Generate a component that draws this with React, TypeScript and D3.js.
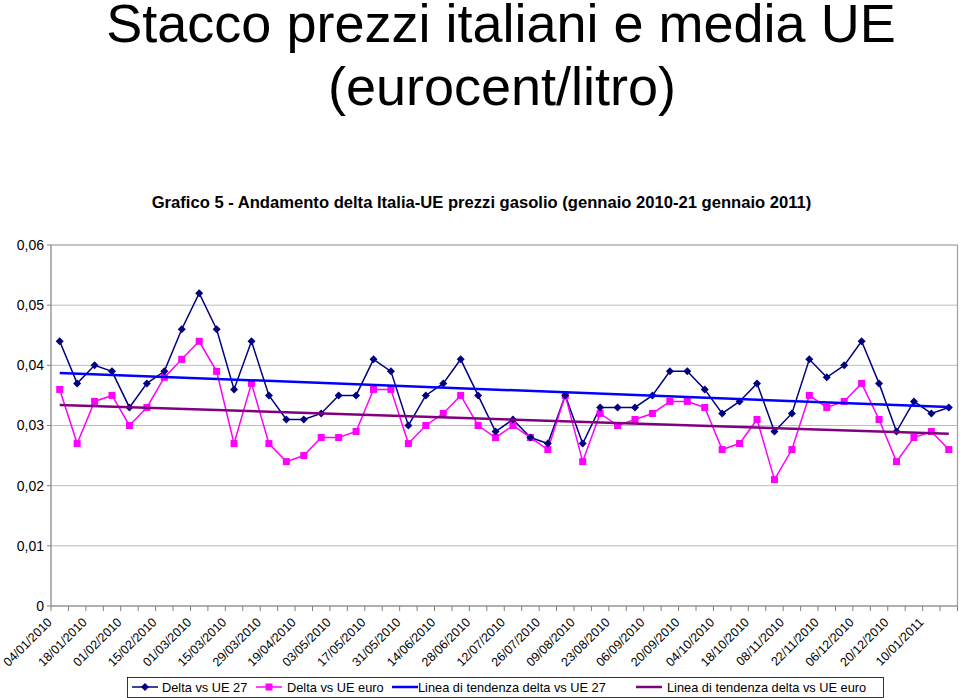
import React from "react";
import * as d3 from "d3";

const categories = [
  "04/01/2010","11/01/2010","18/01/2010","25/01/2010","01/02/2010","08/02/2010","15/02/2010","22/02/2010",
  "01/03/2010","08/03/2010","15/03/2010","22/03/2010","29/03/2010","12/04/2010","19/04/2010","26/04/2010",
  "03/05/2010","10/05/2010","17/05/2010","24/05/2010","31/05/2010","07/06/2010","14/06/2010","21/06/2010",
  "28/06/2010","05/07/2010","12/07/2010","19/07/2010","26/07/2010","02/08/2010","09/08/2010","16/08/2010",
  "23/08/2010","30/08/2010","06/09/2010","13/09/2010","20/09/2010","27/09/2010","04/10/2010","11/10/2010",
  "18/10/2010","01/11/2010","08/11/2010","15/11/2010","22/11/2010","29/11/2010","06/12/2010","13/12/2010",
  "20/12/2010","03/01/2011","10/01/2011","17/01/2011"
];

const deltaUE27 = [
  0.044,0.037,0.040,0.039,0.033,0.037,0.039,0.046,0.052,0.046,0.036,0.044,0.035,0.031,0.031,0.032,
  0.035,0.035,0.041,0.039,0.030,0.035,0.037,0.041,0.035,0.029,0.031,0.028,0.027,0.035,0.027,0.033,
  0.033,0.033,0.035,0.039,0.039,0.036,0.032,0.034,0.037,0.029,0.032,0.041,0.038,0.040,0.044,0.037,
  0.029,0.034,0.032,0.033
];

const deltaUEeuro = [
  0.036,0.027,0.034,0.035,0.030,0.033,0.038,0.041,0.044,0.039,0.027,0.037,0.027,0.024,0.025,0.028,
  0.028,0.029,0.036,0.036,0.027,0.030,0.032,0.035,0.030,0.028,0.030,0.028,0.026,0.035,0.024,0.032,
  0.030,0.031,0.032,0.034,0.034,0.033,0.026,0.027,0.031,0.021,0.026,0.035,0.033,0.034,0.037,0.031,
  0.024,0.028,0.029,0.026
];

const yTicks = [0, 0.01, 0.02, 0.03, 0.04, 0.05, 0.06];
const yTickLabels = ["0", "0,01", "0,02", "0,03", "0,04", "0,05", "0,06"];

const titleLines = ["Stacco prezzi italiani e media UE", "(eurocent/litro)"];
const subtitle = "Grafico 5 - Andamento delta Italia-UE prezzi gasolio (gennaio 2010-21 gennaio 2011)";
const legendNames = [
  "Delta vs UE 27",
  "Delta vs UE euro",
  "Linea di tendenza delta vs UE 27",
  "Linea di tendenza delta vs UE euro",
];

const FONT = "Arial, 'Liberation Sans', Helvetica, sans-serif";

function linreg(vals: number[]) {
  const n = vals.length;
  const xs = vals.map((_, i) => i);
  const mx = d3.mean(xs)!;
  const my = d3.mean(vals)!;
  let num = 0, den = 0;
  for (let i = 0; i < n; i++) {
    num += (xs[i] - mx) * (vals[i] - my);
    den += (xs[i] - mx) * (xs[i] - mx);
  }
  const b = num / den;
  const a = my - b * mx;
  return (i: number) => a + b * i;
}

export default function App() {
  const W = 960, H = 698;
  const left = 51, right = 957.5, top = 245, bottom = 606;
  const x = d3.scaleBand<string>().domain(categories).range([left, right]).padding(0);
  const bw = x.bandwidth();
  const cx = (i: number) => (x(categories[i]) as number) + bw / 2;
  const y = d3.scaleLinear().domain([0, 0.06]).range([bottom, top]);

  const line = d3.line<number>().x((_, i) => cx(i)).y((d) => y(d));
  const f27 = linreg(deltaUE27);
  const fEu = linreg(deltaUEeuro);
  const n = categories.length;

  const diamond = (px: number, py: number, r: number) =>
    `M${px},${py - r}L${px + r},${py}L${px},${py + r}L${px - r},${py}Z`;

  const legY = 687;
  const legItems = [
    { x0: 132, tx: 162, name: legendNames[0], color: "#000080", marker: "diamond" },
    { x0: 256, tx: 287, name: legendNames[1], color: "#ff00ff", marker: "square" },
    { x0: 392, tx: 418, name: legendNames[2], color: "#0000ff", marker: "none", w: 2.5 },
    { x0: 636, tx: 667, name: legendNames[3], color: "#800080", marker: "none", w: 2.5 },
  ];

  return (
    <svg
      width={W}
      height={H}
      style={{ position: "absolute", left: 0, top: 0, background: "#fff" }}
      fontFamily={FONT}
    >
      <rect x={0} y={0} width={W} height={H} fill="#fff" />
      <text x={501} y={42} fontSize={54} textAnchor="middle" fill="#000">{titleLines[0]}</text>
      <text x={502} y={105} fontSize={54} textAnchor="middle" fill="#000">{titleLines[1]}</text>
      <text x={481.5} y={208} fontSize={16.6} fontWeight="bold" textAnchor="middle" fill="#000">{subtitle}</text>

      {yTicks.map((t, i) => (
        <line key={"g" + i} x1={left} x2={right} y1={y(t)} y2={y(t)} stroke="#bdbdbd" strokeWidth={1} />
      ))}
      <line x1={right} x2={right} y1={top} y2={bottom} stroke="#a0a0a0" strokeWidth={1.2} />
      <line x1={left} x2={right} y1={top} y2={top} stroke="#a8a8a8" strokeWidth={1.2} />
      <line x1={left} x2={left} y1={top} y2={bottom} stroke="#808080" strokeWidth={1.2} />
      <line x1={left} x2={right} y1={bottom} y2={bottom} stroke="#808080" strokeWidth={1.2} />
      {yTicks.map((t, i) => (
        <line key={"yt" + i} x1={left - 4} x2={left} y1={y(t)} y2={y(t)} stroke="#808080" strokeWidth={1} />
      ))}
      {yTicks.map((t, i) => (
        <text key={"yl" + i} x={44} y={y(t)} dy="0.35em" fontSize={14} textAnchor="end" fill="#000">
          {yTickLabels[i]}
        </text>
      ))}
      {d3.range(n + 1).map((i) => {
        const xx = i < n ? (x(categories[i]) as number) : right;
        return <line key={"xt" + i} x1={xx} x2={xx} y1={bottom} y2={bottom + 5} stroke="#808080" strokeWidth={1} />;
      })}
      {categories.map((c, i) =>
        i % 2 === 0 ? (
          <text
            key={"xl" + i}
            transform={`translate(${cx(i) - 7},${623}) rotate(-45)`}
            fontSize={12.5}
            textAnchor="end"
            fill="#000"
          >
            {c}
          </text>
        ) : null
      )}

      <path d={line(deltaUE27) || ""} fill="none" stroke="#000080" strokeWidth={1.5} />
      <path d={line(deltaUEeuro) || ""} fill="none" stroke="#ff00ff" strokeWidth={1.5} />
      {deltaUEeuro.map((v, i) => (
        <rect key={"sq" + i} x={cx(i) - 3.5} y={y(v) - 3.5} width={7} height={7} fill="#ff00ff" />
      ))}
      {deltaUE27.map((v, i) => (
        <path key={"dm" + i} d={diamond(cx(i), y(v), 4)} fill="#000080" />
      ))}
      <line x1={cx(0)} x2={cx(n - 1)} y1={y(f27(0))} y2={y(f27(n - 1))} stroke="#0000ff" strokeWidth={2.5} />
      <line x1={cx(0)} x2={cx(n - 1)} y1={y(fEu(0))} y2={y(fEu(n - 1))} stroke="#800080" strokeWidth={2.5} />

      <rect x={127.5} y={677.5} width={756} height={20} fill="#fff" stroke="#000" strokeWidth={0.8} />
      {legItems.map((it, i) => (
        <g key={"lg" + i}>
          <line x1={it.x0} x2={it.x0 + 26} y1={legY} y2={legY} stroke={it.color} strokeWidth={it.w || 1.5} />
          {it.marker === "diamond" && <path d={diamond(it.x0 + 13, legY, 4)} fill={it.color} />}
          {it.marker === "square" && <rect x={it.x0 + 9.5} y={legY - 3.5} width={7} height={7} fill={it.color} />}
          <text x={it.tx} y={legY} dy="0.36em" fontSize={12.8} fill="#000">{it.name}</text>
        </g>
      ))}
    </svg>
  );
}
